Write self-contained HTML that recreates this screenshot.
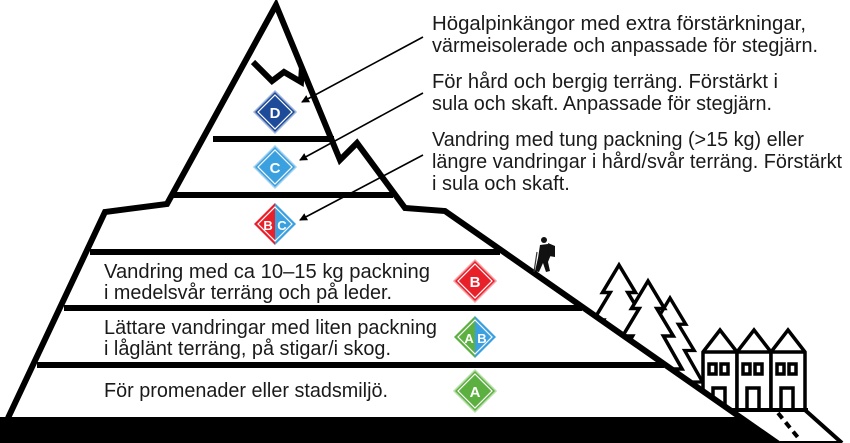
<!DOCTYPE html>
<html><head><meta charset="utf-8"><style>
html,body{margin:0;padding:0;background:#fff;width:850px;height:443px;overflow:hidden}
svg text{font-family:"Liberation Sans",Arial,sans-serif;fill:#1a1a1a}
</style></head><body>
<svg width="850" height="443" viewBox="0 0 850 443" xmlns="http://www.w3.org/2000/svg">
<defs>
<marker id="ah" markerWidth="8" markerHeight="8" refX="7" refY="4" orient="auto" markerUnits="userSpaceOnUse">
<path d="M0,0 L8,4 L0,8 Z" fill="#000"/></marker>
<path id="tree" d="M0,0 L15,25 L8,25 L23,50 L14,50 L31,80 L-31,80 L-14,50 L-23,50 L-8,25 L-15,25 Z"/>
</defs>
<g fill="#fff" stroke="#000" stroke-width="3.2" stroke-linejoin="miter">
<use href="#tree" transform="translate(670,298) scale(1.05)"/>
<use href="#tree" transform="translate(619,265) scale(1.1)"/>
<use href="#tree" transform="translate(648,281) scale(1.1)"/>
</g>
<g fill="#fff" stroke="#000" stroke-width="3.5">
<path d="M703,410 L703,352 L720,330 L737,352 L737,410 Z"/>
<path d="M737,410 L737,352 L754,330 L771,352 L771,410 Z"/>
<path d="M771,410 L771,352 L788,330 L805,352 L805,410 Z"/>
<line x1="703" y1="352" x2="805" y2="352"/>
<rect x="709" y="364" width="7" height="10"/><rect x="721" y="364" width="7" height="10"/>
<rect x="743" y="364" width="7" height="10"/><rect x="755" y="364" width="7" height="10"/>
<rect x="777" y="364" width="7" height="10"/><rect x="789" y="364" width="7" height="10"/>
<rect x="713" y="388" width="12" height="22"/><rect x="747" y="388" width="12" height="22"/><rect x="781" y="388" width="12" height="22"/>
</g>
<path d="M0,211 L445,211 L780,445 L0,445 Z" fill="#fff"/>
<g fill="none" stroke="#000" stroke-width="6" stroke-linejoin="miter">
<path d="M8,418 L105,212 L167,204 L276,5 L340,160 L357,143 L405,208 L445,211 L780,445"/>
<path d="M253,62 L272,81 L284,72 L301,82 L302,67"/>
</g>
<g stroke="#000" stroke-width="6">
<line x1="213" y1="139" x2="334" y2="139"/>
<line x1="173" y1="195" x2="393" y2="195"/>
<line x1="90" y1="252" x2="500" y2="252"/>
<line x1="64" y1="308" x2="582" y2="308"/>
<line x1="37" y1="365" x2="664" y2="365"/>
</g>
<path d="M0,417 L737,417 L775,443 L0,443 Z" fill="#000"/>
<g stroke="#000" stroke-width="4" fill="none">
<line x1="730" y1="410" x2="808" y2="410"/>
<line x1="805" y1="410" x2="842" y2="443"/>
<line x1="780" y1="443" x2="842" y2="443"/>
<line x1="778" y1="413" x2="800" y2="440" stroke-dasharray="7,5"/>
</g>
<g fill="#111">
<circle cx="544" cy="240" r="3"/>
<path d="M540,245 L548,244 L552,252 L548,262 L550,271 L546,272 L543,263 L539,272 L535,271 L538,258 Z"/>
<path d="M548,243 L555,246 L555,257 L549,256 Z"/>
<line x1="537" y1="252" x2="534" y2="272" stroke="#333" stroke-width="1.2"/>
</g>
<g stroke="#000" stroke-width="1.6" marker-end="url(#ah)">
<line x1="423" y1="37" x2="302" y2="102"/>
<line x1="423" y1="93" x2="300" y2="160"/>
<line x1="423" y1="155" x2="300" y2="220"/>
</g>
<g font-weight="bold" font-size="15" text-anchor="middle">
<g transform="translate(275,112)"><path d="M0,-21 L21,0 L0,21 L-21,0 Z" fill="#1e4a9a" stroke="#9fb5da" stroke-width="1.5"/><path d="M0,-17 L17,0 L0,17 L-17,0 Z" fill="none" stroke="#fff" stroke-width="1.2"/><text y="6" style="fill:#fff">D</text></g>
<g transform="translate(275,167)"><path d="M0,-21 L21,0 L0,21 L-21,0 Z" fill="#3aa0e0" stroke="#9fd0f0" stroke-width="1.5"/><path d="M0,-17 L17,0 L0,17 L-17,0 Z" fill="none" stroke="#fff" stroke-width="1.2"/><text y="6" style="fill:#fff">C</text></g>
<g transform="translate(275,224)"><path d="M0,-21 L0,21 L-21,0 Z" fill="#e8202a"/><path d="M0,-21 L21,0 L0,21 Z" fill="#3aa0e0"/><path d="M0,-17 L17,0 L0,17 L-17,0 Z" fill="none" stroke="#fff" stroke-width="1.2"/><text x="-7" y="6" font-size="13" style="fill:#fff">B</text><text x="7" y="6" font-size="13" style="fill:#fff">C</text></g>
<g transform="translate(475,281)"><path d="M0,-21 L21,0 L0,21 L-21,0 Z" fill="#e8202a" stroke="#f4a0a4" stroke-width="1.5"/><path d="M0,-17 L17,0 L0,17 L-17,0 Z" fill="none" stroke="#fff" stroke-width="1.2"/><text y="6" style="fill:#fff">B</text></g>
<g transform="translate(475,337)"><path d="M0,-21 L0,21 L-21,0 Z" fill="#5cb040"/><path d="M0,-21 L21,0 L0,21 Z" fill="#3aa0e0"/><path d="M0,-17 L17,0 L0,17 L-17,0 Z" fill="none" stroke="#fff" stroke-width="1.2"/><text x="-6" y="6" font-size="13" style="fill:#fff">A</text><text x="7" y="6" font-size="13" style="fill:#fff">B</text></g>
<g transform="translate(475,391)"><path d="M0,-21 L21,0 L0,21 L-21,0 Z" fill="#5cb040" stroke="#b8e0a8" stroke-width="1.5"/><path d="M0,-17 L17,0 L0,17 L-17,0 Z" fill="none" stroke="#fff" stroke-width="1.2"/><text y="6" style="fill:#fff">A</text></g>
</g>
<g font-size="20">
<text x="432" y="30" textLength="374" lengthAdjust="spacingAndGlyphs">Högalpinkängor med extra förstärkningar,</text>
<text x="432" y="52" textLength="386" lengthAdjust="spacingAndGlyphs">värmeisolerade och anpassade för stegjärn.</text>
<text x="432" y="88" textLength="346" lengthAdjust="spacingAndGlyphs">För hård och bergig terräng. Förstärkt i</text>
<text x="432" y="110" textLength="340" lengthAdjust="spacingAndGlyphs">sula och skaft. Anpassade för stegjärn.</text>
<text x="432" y="146" textLength="372" lengthAdjust="spacingAndGlyphs">Vandring med tung packning (&gt;15 kg) eller</text>
<text x="432" y="168" textLength="410" lengthAdjust="spacingAndGlyphs">längre vandringar i hård/svår terräng. Förstärkt</text>
<text x="432" y="190">i sula och skaft.</text>
<text x="104" y="278" textLength="326" lengthAdjust="spacingAndGlyphs">Vandring med ca 10–15 kg packning</text>
<text x="104" y="299" textLength="288" lengthAdjust="spacingAndGlyphs">i medelsvår terräng och på leder.</text>
<text x="104" y="334" textLength="333" lengthAdjust="spacingAndGlyphs">Lättare vandringar med liten packning</text>
<text x="104" y="355" textLength="287" lengthAdjust="spacingAndGlyphs">i låglänt terräng, på stigar/i skog.</text>
<text x="104" y="397" textLength="284" lengthAdjust="spacingAndGlyphs">För promenader eller stadsmiljö.</text>
</g>
</svg>
</body></html>
